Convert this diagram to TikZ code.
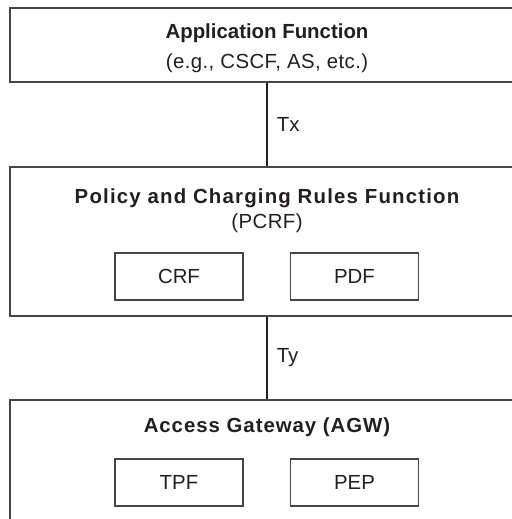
\documentclass[tikz,border=0pt]{standalone}
\usepackage{fontspec}
\setmainfont{Liberation Sans}
\usepackage{xcolor}
\usepackage{tikz}
\definecolor{framegray}{RGB}{70,70,70}
\definecolor{inkblack}{RGB}{35,31,32}

\begin{document}
\begin{tikzpicture}[x=0.5pt, y=0.5pt,
  every node/.style={font=\fontsize{10.2}{12}\selectfont, text=inkblack},
  block/.style={draw=framegray, line width=1pt, minimum width=257pt, inner sep=0pt},
  unit/.style={draw=framegray, line width=0.7pt, minimum width=64pt,
               minimum height=23.5pt, inner sep=0pt},
  title/.style={anchor=base, font=\fontsize{10.2}{12}\selectfont\bfseries},
  sub/.style={anchor=base},
  link/.style={draw=inkblack, line width=1.2pt}]
  \useasboundingbox (0,0) rectangle (512,-519);
  \clip (0,0) rectangle (512,-519);

  % application function
  \node[block, minimum height=37pt] (af) at (267,-45) {};
  \node[title] (aftitle) at (267,-39) {Application Function};
  \node[sub] (afsub) at (267,-69) {\addfontfeature{LetterSpace=2}(e.g., CSCF, AS, etc.)};

  % PCRF
  \node[block, minimum height=74.5pt] (pcrf) at (267,-241.5) {};
  \node[title] (pcrftitle) at (267,-203)
    {\addfontfeature{LetterSpace=5.8}Policy and Charging Rules Function};
  \node[sub] (pcrfsub) at (267,-228) {\addfontfeature{LetterSpace=2}(PCRF)};
  \node[unit] (crf) at (179,-276.5) {CRF};
  \node[unit] (pdf) at (354.5,-276.5) {PDF};

  % access gateway
  \node[block, minimum height=70pt] (agw) at (267,-470) {};
  \node[title] (agwtitle) at (267,-432)
    {\addfontfeature{LetterSpace=4.7}Access Gateway (AGW)};
  \node[unit] (tpf) at (179,-482.5) {TPF};
  \node[unit] (pep) at (354.5,-482.5) {PEP};

  % interfaces
  \draw[link] (af.south) -- node[right, xshift=1pt] (tx) {Tx} (pcrf.north);
  \draw[link] (pcrf.south) -- node[right, xshift=1pt] (ty) {Ty} (agw.north);
\end{tikzpicture}
\end{document}
